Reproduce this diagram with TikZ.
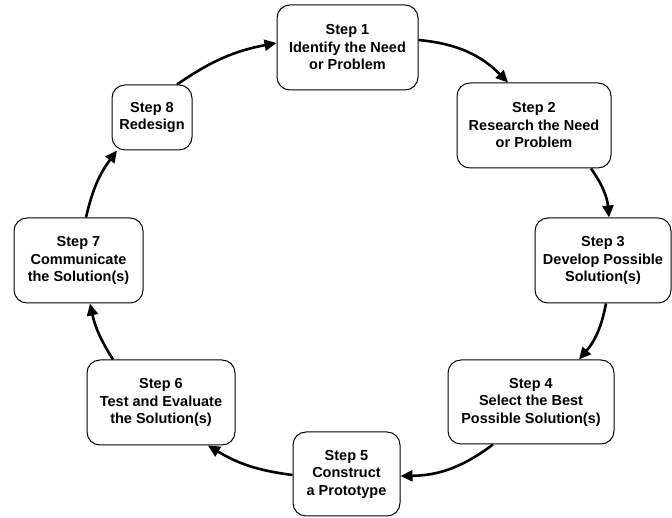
\documentclass[tikz,border=0pt]{standalone}
\usepackage{fontspec}
\setmainfont{Liberation Sans}
\usetikzlibrary{arrows.meta}
\begin{document}
\begin{tikzpicture}[x=1pt,y=1pt,
  box/.style={draw, rounded corners=13pt, line width=1pt, align=center, inner sep=0pt,
    font=\bfseries\fontsize{14.5}{17.5}\selectfont},
  arr/.style={line width=2.6pt, -{Triangle[length=12pt,width=11pt]}}]
\useasboundingbox (0,0) rectangle (672,518);
\node[box, minimum width=141pt, minimum height=85pt] (s1) at (347.5,470.5) {Step 1\\Identify the Need\\or Problem};
\node[box, minimum width=154pt, minimum height=85pt] (s2) at (534,392.5) {Step 2\\Research the Need\\or Problem};
\node[box, minimum width=136pt, minimum height=85pt] (s3) at (603,257.5) {Step 3\\Develop Possible\\Solution(s)};
\node[box, minimum width=166pt, minimum height=84pt] (s4) at (531,116) {Step 4\\Select the Best\\Possible Solution(s)};
\node[box, minimum width=107pt, minimum height=84pt] (s5) at (346.5,44) {Step 5\\Construct\\a Prototype};
\node[box, minimum width=148pt, minimum height=85pt] (s6) at (161,115.5) {Step 6\\Test and Evaluate\\the Solution(s)};
\node[box, minimum width=129pt, minimum height=85pt] (s7) at (78.5,257.5) {Step 7\\Communicate\\the Solution(s)};
\node[box, minimum width=80pt, minimum height=65pt] (s8) at (152,400.5) {Step 8\\Redesign};
\draw[arr] ([yshift=7.5pt]s1.east) to[bend left=20] ([xshift=-26pt]s2.north);
\draw[arr] ([xshift=57pt]s2.south) to[bend left=15] ([xshift=6pt]s3.north);
\draw[arr] ([xshift=3pt]s3.south) to[bend left=15] ([xshift=48pt]s4.north);
\draw[arr] ([xshift=-38pt]s4.south) to[bend left=18] ([yshift=-2pt]s5.east);
\draw[arr] ([yshift=-1pt]s5.west) to[bend left=12] ([xshift=47pt]s6.south);
\draw[arr] ([xshift=-48pt]s6.north) to[bend left=10] ([xshift=11.5pt]s7.south);
\draw[arr] ([xshift=7.5pt]s7.north) to[bend left=12] ([xshift=-35pt]s8.south);
\draw[arr] ([xshift=25pt]s8.north) to[bend left=12] ([yshift=4.5pt]s1.west);
\end{tikzpicture}
\end{document}
